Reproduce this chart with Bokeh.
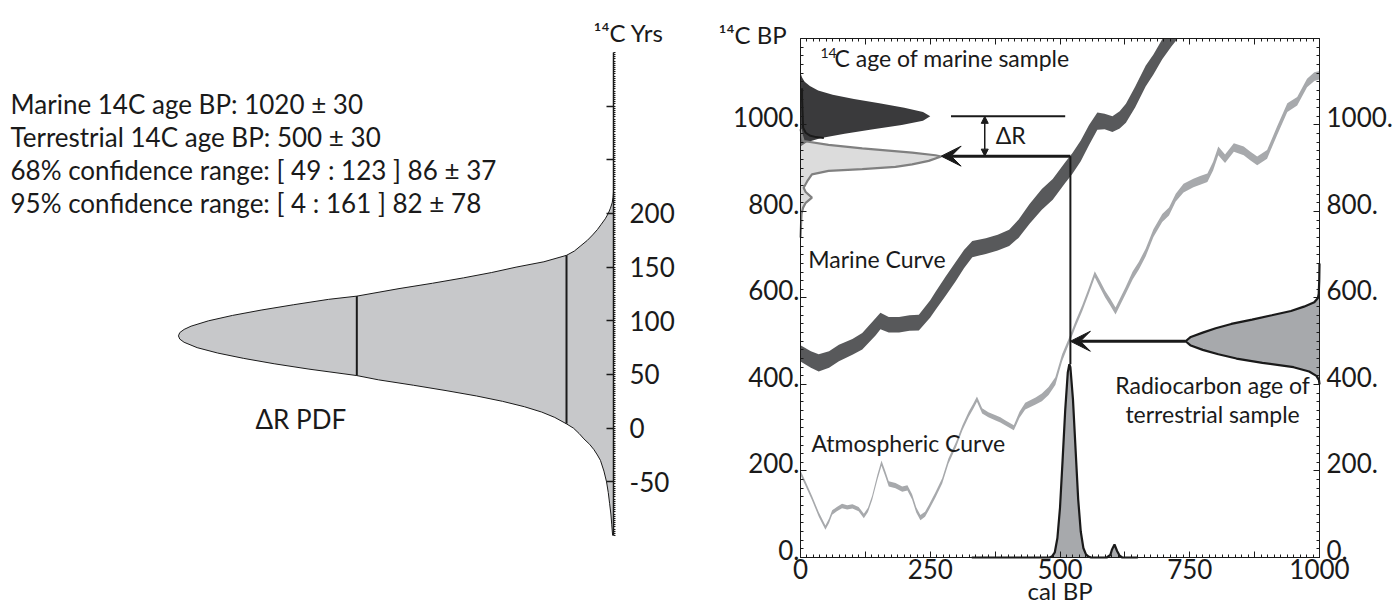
from bokeh.plotting import figure
from bokeh.models import Range1d, LinearAxis, FixedTicker, Label, Arrow, VeeHead, NormalHead
from bokeh.layouts import row
from bokeh.embed import file_html
from bokeh.resources import INLINE

FONT = "Lato"
FS = "23px"
FS_INFO = "26px"
FS_TICK = "26px"
INK = "#1a1a1a"

# ---------------- data: Delta-R PDF (left panel) ----------------
dr_val = [-100, -90, -80, -70, -60, -50, -40, -30, -25, -20, -15, -10, -5, 0, 4, 10, 15, 20, 25, 30,
          35, 40, 45, 49, 55, 60, 65, 70, 75, 80, 83, 86, 89, 92, 95, 100, 105, 110, 115, 120, 123,
          130, 135, 140, 145, 150, 155, 161, 165, 170, 175, 180, 185, 190, 195, 200, 205, 210, 215, 220]
dr_dens = [0.002, 0.004, 0.006, 0.009, 0.012, 0.016, 0.022, 0.030, 0.037, 0.045, 0.055, 0.068, 0.079,
           0.092, 0.108, 0.135, 0.165, 0.205, 0.255, 0.315, 0.385, 0.46, 0.54, 0.59, 0.70, 0.78, 0.85,
           0.91, 0.957, 0.987, 0.997, 1.0, 0.997, 0.987, 0.971, 0.931, 0.876, 0.81, 0.735, 0.655, 0.59,
           0.493, 0.416, 0.345, 0.28, 0.224, 0.16, 0.108, 0.09, 0.075, 0.06, 0.048, 0.037, 0.028,
           0.019, 0.012, 0.007, 0.003, 0.001, 0.0]
conf68 = [49, 123]
conf95 = [4, 161]
conf_dens = [0.59, 0.108]
dr_ticks = [-50, 0, 50, 100, 150, 200, 250, 300]
dr_tick_labels = {-50: "-50", 0: "0", 50: "50", 100: "100", 150: "150", 200: "200", 250: "", 300: ""}
dr_bounds = (-100, 350)

# ---------------- data: calibration panel (right) ----------------
marine_cal = [0, 20, 35, 55, 74, 100, 119, 145, 154, 170, 190, 210, 228, 250, 260, 280, 299, 315,
              331, 357, 380, 402, 420, 441, 465, 486, 510, 524, 540, 556, 572, 586, 601, 615, 627,
              645, 665, 680, 697, 715, 735, 760]
marine_c14 = [472, 458, 450, 458, 473, 487, 500, 534, 547, 538, 538, 542, 543, 575, 593, 628, 661,
              690, 713, 720, 728, 739, 760, 794, 828, 851, 890, 911, 940, 977, 1009, 1008, 1002,
              1012, 1027, 1065, 1113, 1140, 1175, 1205, 1235, 1275]
marine_err = [19, 19, 20, 19, 19, 18, 19, 20, 19, 18, 18, 18, 18, 20, 21, 22, 22, 21, 19, 18, 18,
              19, 21, 23, 24, 24, 24, 24, 24, 23, 20, 18, 18, 20, 22, 24, 24, 23, 23, 23, 23, 23]

atm_cal = [0, 10, 22, 35, 48, 55, 61, 70, 80, 90,
           100, 112, 122, 130, 138, 148, 156, 163, 170, 183,
           196, 206, 215, 223, 231, 240, 247, 260, 273, 285,
           300, 312, 324, 333, 340, 350, 362, 376, 385, 395,
           411, 422, 433, 453, 465, 478, 491, 504, 517, 530,
           543, 555, 567, 577, 587, 597, 607, 616, 626, 640,
           652, 665, 680, 697, 710, 723, 738, 757, 770, 784,
           795, 805, 818, 835, 854, 867, 880, 899, 918, 938,
           957, 976, 990, 1000]
atm_c14 = [196, 170, 138, 100, 69, 85, 104, 112, 119, 116,
           118, 112, 96, 110, 138, 185, 218, 195, 170, 166,
           158, 161, 140, 110, 92, 100, 115, 145, 177, 223,
           262, 300, 331, 350, 366, 339, 330, 323, 318, 311,
           300, 330, 350, 362, 370, 385, 408, 462, 500, 540,
           577, 615, 655, 632, 609, 590, 570, 592, 616, 652,
           675, 705, 750, 785, 800, 832, 854, 866, 872, 878,
           905, 940, 922, 948, 940, 928, 917, 932, 986, 1040,
           1055, 1097, 1112, 1115]
atm_err = [5, 5, 5, 5, 5, 5, 5, 5, 5, 5,
           5, 5, 5, 5, 5, 6, 6, 6, 6, 6,
           6, 6, 6, 6, 6, 6, 6, 6, 6, 6,
           6, 6, 6, 6, 6, 6, 6, 6, 6, 6,
           6, 7, 8, 8, 9, 9, 9, 8, 7, 7,
           7, 7, 7, 8, 8, 8, 8, 8, 8, 9,
           9, 9, 9, 9, 9, 9, 10, 10, 10, 10,
           10, 10, 10, 10, 10, 10, 10, 10, 10, 10,
           10, 10, 10, 10]

# marine sample 14C age PDF (dark, on left edge)
mar_c14 = [1120, 1110, 1100, 1090, 1080, 1070, 1060, 1050, 1040, 1030, 1020, 1010, 1000, 990, 980,
           970, 960, 950]
mar_w = [0, 3, 8, 18, 34, 62, 103, 152, 200, 236, 250, 236, 195, 140, 85, 40, 12, 0]
mar_edge_cal = [3, 3, 5, 10, 19, 30, 45]
mar_edge_c14 = [1085, 1063, 994, 982, 975, 972, 970]

# marine-curve equivalent age PDF (light, on left edge)
lt_c14 = [990, 975, 963, 954, 946, 936, 930, 927, 917, 909, 903, 898, 894, 886, 870, 855, 845, 832,
          820, 809, 795, 770, 740]
lt_w = [0, 3, 6, 54, 119, 215, 260, 271, 247, 215, 183, 119, 54, 22, 13, 6, 10, 22, 10, 5, 2, 1, 0]

# terrestrial sample 14C age PDF (right edge)
terr_c14 = [680, 640, 610, 600, 590, 580, 570, 560, 550, 540, 530, 520, 510, 500, 490, 480, 470,
            460, 450, 440, 430, 420, 410, 400]
terr_w = [0, 0.5, 1.5, 3, 10, 30, 55, 92, 130, 170, 200, 225, 248, 258, 248, 225, 195, 160, 110, 50,
          20, 6, 1, 0]

# calibrated age PDF (bottom)
calpdf_x = [330, 480, 485, 490, 495, 500, 505, 510, 515, 518, 520, 525, 530, 535, 540, 545, 550,
            555, 560, 590, 597, 600, 605, 610, 615, 620, 650]
calpdf_h = [0, 0, 3, 12, 45, 115, 225, 340, 428, 447, 440, 365, 250, 135, 60, 22, 7, 2, 0, 0, 6,
            18, 30, 15, 4, 0, 0]

marine_age = 1020
terr_age = 500
cal_age = 520
model_age = 928
dR_x = 355
dR_line = [290, 510]

x_ticks = [0, 125, 250, 375, 500, 625, 750, 875, 1000]
x_tick_labels = {0: "0", 125: "", 250: "250", 375: "", 500: "500", 625: "", 750: "750", 875: "", 1000: "1000"}
y_ticks = [0, 200, 400, 600, 800, 1000]
y_tick_text = ["0.", "200.", "400.", "600.", "800.", "1000."]
Y_LABEL_RAISE = 18   # labels sit slightly above their ticks in the original
CAL_BOUNDS = (0, 1000)
C14_BOUNDS = (0, 1200)

# ---------------- left figure ----------------
left = figure(width=700, height=605, x_range=Range1d(1.409, 0), y_range=Range1d(-165.2, 363),
              output_backend="svg", toolbar_location=None,
              x_axis_location=None, y_axis_location=None,
              min_border_left=0, min_border_right=87, min_border_top=38, min_border_bottom=0)
left.outline_line_color = None
left.grid.visible = False
left.background_fill_color = "white"
left.border_fill_color = "white"
left.title.text = "\u00b9\u2074C Yrs"
left.title.align = "left"
left.title.offset = 593
left.title.standoff = -16
left.title.text_font = FONT
left.title.text_font_size = "24px"
left.title.text_font_style = "normal"
left.title.text_color = INK

left.harea(y=dr_val, x1=0, x2=dr_dens, fill_color="#c7c8ca")
left.line(dr_dens, dr_val, line_color=INK, line_width=1)
left.segment(x0=conf_dens, y0=[conf68[0], conf95[0]], x1=conf_dens, y1=[conf68[1], conf95[1]],
             line_color=INK, line_width=2)

lax = LinearAxis(ticker=FixedTicker(ticks=dr_ticks, minor_ticks=list(range(-100, 351, 2))),
                 bounds=dr_bounds,
                 major_label_overrides=dr_tick_labels,
                 major_tick_in=7, major_tick_out=0, minor_tick_in=0, minor_tick_out=2,
                 major_tick_line_width=1.5, minor_tick_line_width=1,
                 axis_line_width=1.5, axis_line_color=INK, major_tick_line_color=INK,
                 minor_tick_line_color=INK,
                 major_label_standoff=14, major_label_text_font=FONT,
                 major_label_text_font_size=FS_TICK, major_label_text_color=INK)
left.add_layout(lax, "right")

info = ["Marine 14C age BP: 1020 \u00b1 30",
        "Terrestrial 14C age BP:  500 \u00b1 30",
        "68% confidence range: [ 49 : 123 ] 86 \u00b1 37",
        "95% confidence range: [ 4 : 161 ] 82 \u00b1 78"]
for txt, yy in zip(info, [302.4, 271.6, 240.9, 210.1]):
    left.add_layout(Label(x=1.386, y=yy, text=txt, text_font=FONT, text_font_size=FS_INFO,
                          text_color=INK, text_baseline="middle", text_align="left"))
left.add_layout(Label(x=0.823, y=9, text="\u0394R PDF", text_font=FONT, text_font_size=FS_INFO,
                      text_color=INK, text_baseline="middle", text_align="left"))

# ---------------- right figure ----------------
right = figure(width=697, height=605, x_range=Range1d(-192.7, 1150.3), y_range=Range1d(-111, 1200),
               output_backend="svg", toolbar_location=None,
               x_axis_location=None, y_axis_location=None,
               min_border_left=0, min_border_right=0, min_border_top=38, min_border_bottom=0)
right.outline_line_color = None
right.grid.visible = False
right.background_fill_color = "white"
right.border_fill_color = "white"
right.title.text = "\u00b9\u2074C BP"
right.title.align = "left"
right.title.offset = 18
right.title.standoff = -20
right.title.text_font = FONT
right.title.text_font_size = "24px"
right.title.text_font_style = "normal"
right.title.text_color = INK

# curves
right.varea(x=marine_cal, y1=[c - e for c, e in zip(marine_c14, marine_err)],
            y2=[c + e for c, e in zip(marine_c14, marine_err)], fill_color="#58595b")
right.varea(x=atm_cal, y1=[c - e for c, e in zip(atm_c14, atm_err)],
            y2=[c + e for c, e in zip(atm_c14, atm_err)], fill_color="#a7a9ac")

# calibrated pdf
right.varea(x=calpdf_x, y1=0, y2=calpdf_h, fill_color="#a7a9ac")
right.line(calpdf_x, calpdf_h, line_color=INK, line_width=2.2)

# marine sample pdf
right.harea(y=mar_c14, x1=0, x2=mar_w, fill_color="#3a3a3c")
right.harea(y=lt_c14, x1=0, x2=lt_w, fill_color="#b0b0b0", fill_alpha=0.44)
right.line(lt_w, lt_c14, line_color="#808080", line_width=2.2)
right.line(mar_edge_cal, mar_edge_c14, line_color=INK, line_width=2)

# terrestrial pdf
terr_x = [1000 - w for w in terr_w]
right.harea(y=terr_c14, x1=terr_x, x2=1000, fill_color="#a7a9ac")
right.line(terr_x, terr_c14, line_color=INK, line_width=2.2)

# construction lines
right.segment(x0=[cal_age], y0=[max(calpdf_h)], x1=[cal_age], y1=[model_age],
              line_color=INK, line_width=2)
right.segment(x0=[dR_line[0]], y0=[marine_age], x1=[dR_line[1]], y1=[marine_age],
              line_color=INK, line_width=2)
right.add_layout(Arrow(x_start=1000 - max(terr_w), y_start=terr_age, x_end=cal_age, y_end=terr_age,
                       line_width=3, line_color=INK,
                       end=VeeHead(size=20, fill_color=INK, line_color=INK)))
right.add_layout(Arrow(x_start=cal_age, y_start=model_age, x_end=max(lt_w), y_end=model_age,
                       line_width=3, line_color=INK,
                       end=VeeHead(size=20, fill_color=INK, line_color=INK)))
right.add_layout(Arrow(x_start=dR_x, y_start=marine_age, x_end=dR_x, y_end=model_age,
                       line_width=1.5, line_color=INK,
                       start=NormalHead(size=7, fill_color=INK, line_color=INK),
                       end=NormalHead(size=7, fill_color=INK, line_color=INK)))


def tick_axis(ticks, minor, labels, standoff, bounds, hide=False, loc=None):
    ax = LinearAxis(ticker=FixedTicker(ticks=ticks, minor_ticks=minor), bounds=bounds,
                    major_label_overrides=labels,
                    major_tick_in=6, major_tick_out=0, minor_tick_in=3, minor_tick_out=0,
                    axis_line_color=INK, major_tick_line_color=INK, minor_tick_line_color=INK,
                    axis_line_width=1, major_tick_line_width=1, minor_tick_line_width=1,
                    major_label_standoff=standoff, major_label_text_font=FONT,
                    major_label_text_font_size=("1px" if hide else FS_TICK),
                    major_label_text_color=(None if hide else INK))
    if loc is not None:
        ax.fixed_location = loc
    return ax


def label_axis(standoff, loc):
    pos = [t + Y_LABEL_RAISE for t in y_ticks]
    return LinearAxis(ticker=FixedTicker(ticks=pos, minor_ticks=[]), fixed_location=loc,
                      major_label_overrides=dict(zip(pos, y_tick_text)),
                      axis_line_color=None, major_tick_line_color=None, minor_tick_line_color=None,
                      major_tick_in=0, major_tick_out=0, minor_tick_in=0, minor_tick_out=0,
                      major_label_standoff=standoff, major_label_text_font=FONT,
                      major_label_text_font_size=FS_TICK, major_label_text_color=INK)


xminor = [i * 12.5 for i in range(81)]
yminor = list(range(0, 1201, 20))
right.add_layout(tick_axis(x_ticks, xminor, x_tick_labels, 2, CAL_BOUNDS, loc=0), "below")
right.add_layout(tick_axis(x_ticks, xminor, {t: "" for t in x_ticks}, 0, CAL_BOUNDS, hide=True),
                 "above")
right.add_layout(tick_axis(y_ticks, yminor, {t: "" for t in y_ticks}, 0, C14_BOUNDS, hide=True,
                           loc=0), "left")
right.add_layout(label_axis(1, 0), "left")
right.add_layout(tick_axis(y_ticks, yminor, {t: "" for t in y_ticks}, 0, C14_BOUNDS, hide=True,
                           loc=1000), "right")
right.add_layout(label_axis(7, 1000), "right")


def lab(x, y, t, size=FS, align="left"):
    right.add_layout(Label(x=x, y=y, text=t, text_font=FONT, text_font_size=size, text_color=INK,
                           text_baseline="middle", text_align=align))


lab(38.5, 1166, "14", size="14px")
lab(65.5, 1154, "C age of marine sample")
lab(15, 691, "Marine Curve")
lab(21, 264, "Atmospheric Curve")
lab(794, 398, "Radiocarbon age of", align="center")
lab(794, 331, "terrestrial sample", align="center")
lab(376, 976, "\u0394R")
lab(500, -76, "cal BP", size="24px", align="center")

layout = row(left, right)
open("out.html", "w").write(file_html(layout, INLINE))
